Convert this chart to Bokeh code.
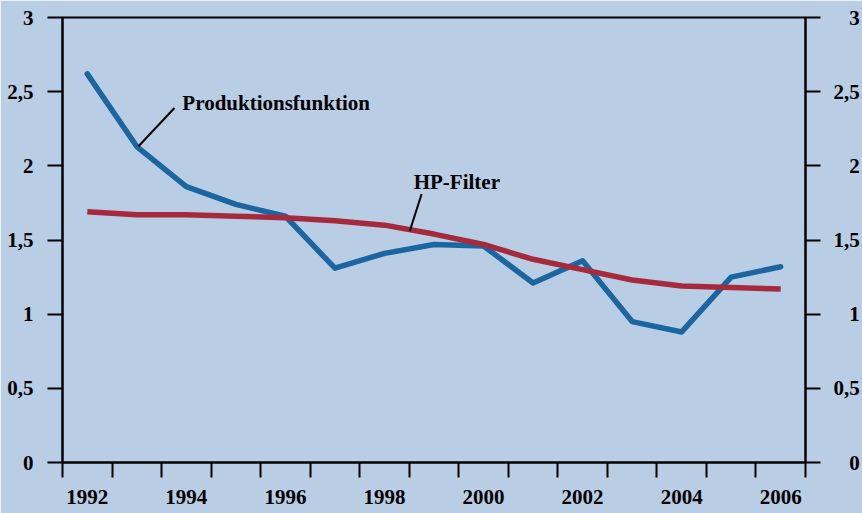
from bokeh.plotting import figure
from bokeh.models import (ColumnDataSource, Range1d, LinearAxis, FixedTicker,
                          Label)
from bokeh.transform import dodge
from bokeh.embed import file_html
from bokeh.resources import INLINE

# ---- data ----
years = list(range(1992, 2007))
produktion = [2.62, 2.13, 1.86, 1.74, 1.66, 1.31, 1.41, 1.47, 1.46, 1.21,
              1.36, 0.95, 0.88, 1.25, 1.32]
hp_filter = [1.69, 1.67, 1.67, 1.66, 1.65, 1.63, 1.60, 1.54, 1.47, 1.37,
             1.30, 1.23, 1.19, 1.18, 1.17]
y_ticks = [0, 0.5, 1, 1.5, 2, 2.5, 3]
y_tick_labels = ["0", "0,5", "1", "1,5", "2", "2,5", "3"]
x_label_years = [1992, 1994, 1996, 1998, 2000, 2002, 2004, 2006]
x_boundaries = list(range(1992, 2008))

BG = "#b9cde5"
BLUE = "#1b66a1"
RED = "#a52b3c"
FONT = "Liberation Serif"
FS = "21px"

src = ColumnDataSource(dict(year=years, prod=produktion, hp=hp_filter))

p = figure(width=862, height=513, output_backend="svg", toolbar_location=None,
           x_range=Range1d(x_boundaries[0], x_boundaries[-1]),
           y_range=Range1d(0, 3),
           x_axis_location=None, y_axis_location=None,
           min_border_left=62, min_border_right=57, min_border_top=17,
           min_border_bottom=51)
p.background_fill_color = BG
p.border_fill_color = BG
p.outline_line_color = "black"
p.outline_line_width = 2
p.xgrid.visible = False
p.ygrid.visible = False


def style_axis(ax):
    ax.axis_line_width = 2
    ax.axis_line_color = "black"
    ax.major_tick_line_width = 2
    ax.minor_tick_line_width = 2
    ax.major_tick_line_color = "black"
    ax.minor_tick_line_color = "black"
    ax.major_label_text_font = FONT
    ax.major_label_text_font_style = "bold"
    ax.major_label_text_font_size = FS
    ax.major_label_text_color = "black"


# bottom axis: labels at mid-year, ticks at year boundaries
xt = FixedTicker(ticks=[y + 0.5 for y in x_label_years], minor_ticks=x_boundaries)
xax = LinearAxis(ticker=xt)
style_axis(xax)
xax.major_tick_out = 0
xax.major_tick_in = 0
xax.minor_tick_out = 15
xax.minor_tick_in = 0
xax.major_label_standoff = 12
xax.major_label_overrides = {y + 0.5: str(y) for y in x_label_years}
p.add_layout(xax, "below")


def pad_right(lbl, width):
    # right-align short labels using figure / punctuation spaces
    out = lbl
    n_dig = sum(c.isdigit() for c in lbl)
    n_pun = sum(c == "," for c in lbl)
    out = "\u2008" * (1 - n_pun) + "\u2007" * (2 - n_dig) + lbl
    return out


for side in ("left", "right"):
    yax = LinearAxis(ticker=FixedTicker(ticks=y_ticks, minor_ticks=[]))
    style_axis(yax)
    yax.major_tick_out = 15
    yax.major_tick_in = 0
    yax.minor_tick_out = 0
    if side == "left":
        yax.major_label_standoff = 14
        yax.major_label_overrides = {t: l for t, l in zip(y_ticks, y_tick_labels)}
    else:
        yax.major_label_standoff = 13
        yax.major_label_overrides = {t: pad_right(l, 3)
                                     for t, l in zip(y_ticks, y_tick_labels)}
    p.add_layout(yax, side)

xm = dodge("year", 0.5, range=p.x_range)
p.line(x=xm, y="prod", source=src, line_color=BLUE, line_width=5.5,
       line_join="round", line_cap="round")
p.line(x=xm, y="hp", source=src, line_color=RED, line_width=5.5,
       line_join="round", line_cap="butt")

# annotations
p.add_layout(Label(x=1994.42, y=2.424, text="Produktionsfunktion",
                   text_font=FONT, text_font_style="bold",
                   text_font_size=FS, text_color="black",
                   text_baseline="middle"))
p.add_layout(Label(x=1999.09, y=1.89, text="HP-Filter",
                   text_font=FONT, text_font_style="bold",
                   text_font_size=FS, text_color="black",
                   text_baseline="middle"))
p.segment(x0=[1993.53, 1999.25], y0=[2.13, 1.81],
          x1=[1994.26, 1999.01], y1=[2.39, 1.56],
          line_color="black", line_width=2)

open("out.html", "w").write(file_html(p, INLINE))
